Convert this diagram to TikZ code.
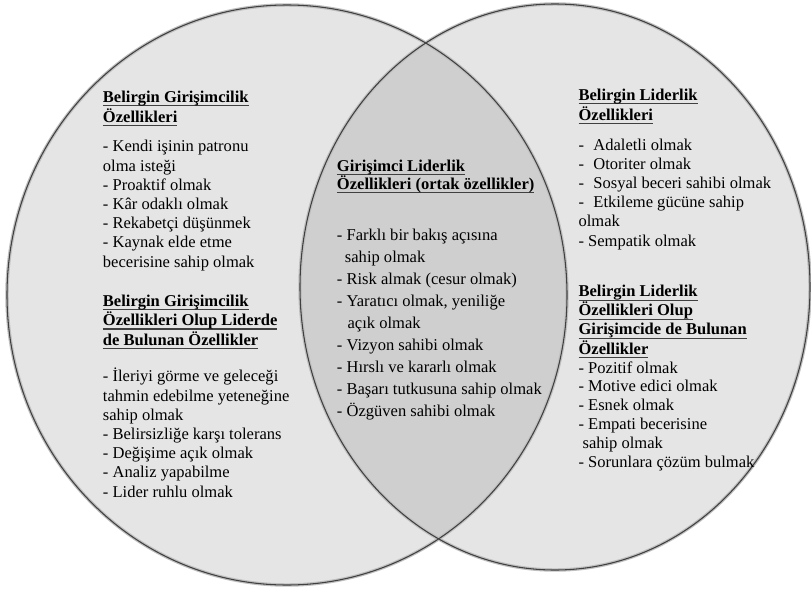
\documentclass[tikz,border=0pt]{standalone}
\usepackage{fontspec}
\setmainfont{Liberation Serif}
\newcommand{\altciz}[1]{\setbox0\hbox{#1}\rlap{\color{black!75}\rule[-3pt]{\wd0}{0.9pt}}\box0}
\tikzset{
	kume/.style={fill=black!10},
	kenar/.style={draw=black!75, line width=0.8pt},
	golge/.style={draw=black!25, line width=2.6pt},
	kesisim/.style={fill=black!19},
	ozbaslik/.style={align=left, anchor=base west, inner sep=0pt, font=\bfseries\fontsize{12.4}{15}\selectfont},
	ozliste/.style={align=left, anchor=base west, inner sep=0pt, font=\fontsize{12.4}{14.4}\selectfont}
}
\begin{document}
\begin{tikzpicture}[x=0.75pt, y=-0.75pt]
	\useasboundingbox (0,0) rectangle (811,589);
	\fill[kume] (287,295) ellipse [x radius=280, y radius=290];
	\fill[kume] (555,287) ellipse [x radius=255, y radius=283];
	\begin{scope}
		\clip (287,295) ellipse [x radius=280, y radius=290];
		\fill[kesisim] (555,287) ellipse [x radius=255, y radius=283];
	\end{scope}
	\draw[golge] (287,295) ellipse [x radius=280, y radius=290];
	\draw[golge] (555,287) ellipse [x radius=255, y radius=283];
	\draw[kenar] (287,295) ellipse [x radius=280, y radius=290];
	\draw[kenar] (555,287) ellipse [x radius=255, y radius=283];

	\node[ozbaslik] (girisimci-baslik) at (102.7,122) {\altciz{Belirgin Girişimcilik}\\\altciz{Özellikleri}};
	\node[ozliste] (girisimci-liste) at (102.7,267) {- Kendi işinin patronu\\olma isteği\\- Proaktif olmak\\- Kâr odaklı olmak\\- Rekabetçi düşünmek\\- Kaynak elde etme\\becerisine sahip olmak};
	\node[ozbaslik, font=\bfseries\fontsize{12.4}{14.5}\selectfont] (girisimci-ortak-baslik) at (102.7,345) {\altciz{Belirgin Girişimcilik}\\\altciz{Özellikleri Olup Liderde}\\\altciz{de Bulunan Özellikler}};
	\node[ozliste] (girisimci-ortak-liste) at (102.7,497) {- İleriyi görme ve geleceği\\tahmin edebilme yeteneğine\\sahip olmak\\- Belirsizliğe karşı tolerans\\- Değişime açık olmak\\- Analiz yapabilme\\- Lider ruhlu olmak};

	\node[ozbaslik, font=\bfseries\fontsize{12.4}{13.7}\selectfont] (ortak-baslik) at (336.7,189.3) {\altciz{Girişimci Liderlik}\\\altciz{Özellikleri (ortak özellikler)}};
	\node[ozliste, font=\fontsize{12.4}{16.5}\selectfont] (ortak-liste) at (336.7,416.7) {- Farklı bir bakış açısına\\\hspace{6pt}sahip olmak\\- Risk almak (cesur olmak)\\- Yaratıcı olmak, yeniliğe\\\hspace{8pt}açık olmak\\- Vizyon sahibi olmak\\- Hırslı ve kararlı olmak\\- Başarı tutkusuna sahip olmak\\- Özgüven sahibi olmak};

	\node[ozbaslik] (lider-baslik) at (578.3,120) {\altciz{Belirgin Liderlik}\\\altciz{Özellikleri}};
	\node[ozliste] (lider-liste) at (578.3,246) {-\hspace{7pt}Adaletli olmak\\-\hspace{7pt}Otoriter olmak\\-\hspace{7pt}Sosyal beceri sahibi olmak\\-\hspace{7pt}Etkileme gücüne sahip\\olmak\\- Sempatik olmak};
	\node[ozbaslik, font=\bfseries\fontsize{12.4}{14.3}\selectfont] (lider-ortak-baslik) at (578.3,354) {\altciz{Belirgin Liderlik}\\\altciz{Özellikleri Olup}\\\altciz{Girişimcide de Bulunan}\\\altciz{Özellikler}};
	\node[ozliste, font=\fontsize{12.4}{14.2}\selectfont] (lider-ortak-liste) at (578.3,467.7) {- Pozitif olmak\\- Motive edici olmak\\- Esnek olmak\\- Empati becerisine\\\hspace{3pt}sahip olmak\\- Sorunlara çözüm bulmak};
\end{tikzpicture}
\end{document}
